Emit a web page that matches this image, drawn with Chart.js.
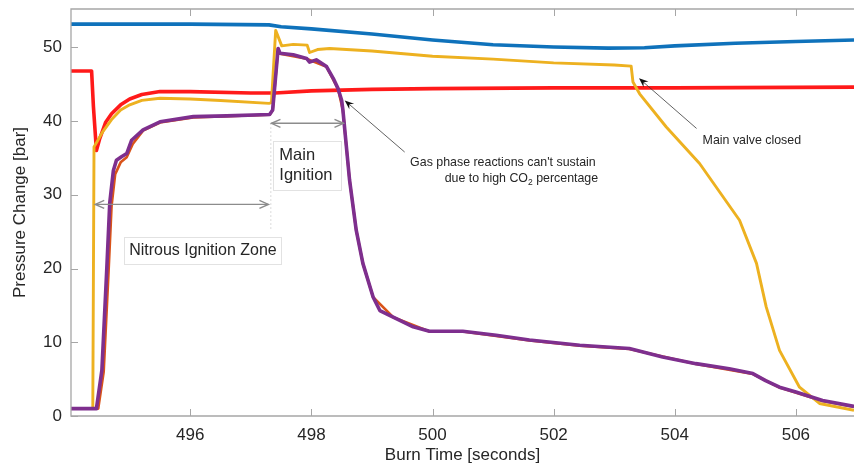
<!DOCTYPE html>
<html>
<head>
<meta charset="utf-8">
<script src="https://cdn.jsdelivr.net/npm/chart.js@4.4.1/dist/chart.umd.min.js"></script>
<style>
  html, body { margin: 0; padding: 0; background: #fff; }
  #caixa { width: 854px; height: 469px; position: relative; }
</style>
</head>
<body>
<div id="caixa"><canvas id="grafico"></canvas></div>
<script>
// eixos
const limiteX = [494.03, 506.96];
const limiteY = [0, 55.2];
const ticksX = [496, 498, 500, 502, 504, 506];
const ticksY = [0, 10, 20, 30, 40, 50];

// curvas de pressão (tempo em s, pressão em bar)
const tempoAzul = [494.03, 496, 497.3, 497.5, 498, 499, 500, 501, 502, 502.9, 503.5, 504, 505, 506, 506.96];
const pressaoAzul = [53.15, 53.15, 53.05, 52.8, 52.5, 51.8, 51.0, 50.35, 50.05, 49.9, 49.95, 50.2, 50.55, 50.8, 51.0];

const tempoVermelho = [494.03, 494.37, 494.40, 494.45, 494.5, 494.6, 494.7, 494.85, 495.0, 495.2, 495.5, 496, 497, 497.4, 498, 499, 500, 502, 504, 506.96];
const pressaoVermelho = [46.8, 46.8, 42, 36.0, 37.5, 39.8, 41.0, 42.2, 43.0, 43.6, 44.0, 44.0, 43.8, 43.8, 44.1, 44.3, 44.4, 44.5, 44.5, 44.6];

const tempoAmarelo = [494.03, 494.39, 494.41, 494.46, 494.55, 494.7, 494.85, 495.0, 495.2, 495.5, 496, 496.5, 497.3, 497.34, 497.41, 497.51, 497.7, 497.93, 497.97, 498.1, 498.3, 499, 500, 501, 502, 503, 503.28, 503.31, 503.42, 503.86, 504.41, 505.07, 505.35, 505.51, 505.73, 506.06, 506.39, 506.96];
const pressaoAmarelo = [1.0, 1.0, 36.5, 37.2, 38.5, 40.2, 41.5, 42.2, 42.8, 43.1, 43.0, 42.8, 42.4, 42.5, 52.3, 50.2, 50.4, 50.3, 49.3, 49.7, 49.85, 49.5, 48.8, 48.4, 47.9, 47.6, 47.45, 45.3, 43.7, 39.2, 34.25, 26.55, 20.7, 14.8, 8.9, 3.9, 1.7, 0.77];

const tempoLaranja = [494.03, 494.48, 494.57, 494.65, 494.70, 494.76, 494.85, 494.95, 495.05, 495.22, 495.5, 496.05, 497.31, 497.36, 497.45, 497.48, 497.92, 498.25, 498.44, 498.52, 498.63, 498.74, 498.85, 499.02, 499.35, 499.95, 500.5, 501.6, 502.43, 503.25, 504.35, 505.29, 505.73, 506.44, 506.96];
const pressaoLaranja = [1.0, 1.0, 6.0, 19.5, 28.5, 32.8, 34.4, 35.1, 36.9, 38.7, 39.8, 40.5, 40.85, 41.45, 49.8, 49.15, 48.45, 47.35, 44.35, 41.45, 32.0, 25.2, 20.7, 16.1, 13.4, 11.45, 11.45, 10.25, 9.55, 9.1, 7.05, 5.7, 3.85, 2.05, 1.25];

const tempoRoxo = [494.03, 494.45, 494.54, 494.62, 494.67, 494.73, 494.78, 494.87, 494.95, 495.03, 495.22, 495.5, 496.05, 496.6, 497.31, 497.36, 497.45, 497.48, 497.7, 497.92, 497.97, 498.08, 498.25, 498.36, 498.44, 498.5, 498.52, 498.63, 498.74, 498.85, 499.02, 499.13, 499.35, 499.68, 499.95, 500.5, 501.05, 501.6, 502.43, 503.25, 503.8, 504.35, 504.9, 505.29, 505.5, 505.73, 506.0, 506.44, 506.96];
const pressaoRoxo = [1.0, 1.0, 6.2, 19.8, 28.9, 33.3, 34.7, 35.2, 35.6, 37.4, 38.8, 39.9, 40.6, 40.7, 40.9, 41.5, 49.85, 49.2, 49.0, 48.5, 48.0, 48.3, 47.4, 45.8, 44.4, 42.8, 41.5, 32.0, 25.2, 20.7, 16.1, 14.3, 13.4, 12.1, 11.5, 11.5, 10.95, 10.3, 9.6, 9.15, 8.0, 7.1, 6.4, 5.75, 4.8, 3.9, 3.25, 2.1, 1.3];

// anotações (coordenadas nos eixos de dados)
const setasZona = [
    { de: 494.43, ate: 497.29, em: 28.7 },
    { de: 497.34, ate: 498.53, em: 39.7 }
];
const linhaPontilhada = { x: 497.33, de: 39.7, ate: 25.2 };
const caixasTexto = [
    { x0: 494.91, x1: 497.51, y0: 24.3, y1: 20.7, fonte: 16, linhas: [{ texto: 'Nitrous Ignition Zone', x: 494.99, y: 22.5 }] },
    { x0: 497.36, x1: 498.49, y0: 37.3, y1: 30.6, fonte: 16.5, linhas: [{ texto: 'Main', x: 497.47, y: 35.4 }, { texto: 'Ignition', x: 497.47, y: 32.6 }] }
];
const setasPretas = [
    { ponta: [498.55, 42.8], cauda: [499.54, 35.8] },
    { ponta: [503.41, 45.8], cauda: [504.36, 39.0] }
];
const notaGas = { x1: 499.63, y1: 34.35, x2: 500.2, y2: 32.2 };
const notaValvula = { texto: 'Main valve closed', x: 504.46, y: 37.3 };

const FONTE = '"Liberation Sans", Arial, Helvetica, sans-serif';
const CINZA_EIXO = '#a6a6a6';
const COR_TEXTO = '#262626';
const FONTE_NOTA = '12.4px ' + FONTE;

function pontos(tempos, pressoes) {
    return tempos.map((t, i) => ({ x: t, y: pressoes[i] }));
}

function serie(tempos, pressoes, cor, largura) {
    return {
        data: pontos(tempos, pressoes),
        borderColor: cor,
        backgroundColor: cor,
        borderWidth: largura,
        borderJoinStyle: 'round',
        pointRadius: 0,
        tension: 0,
        fill: false
    };
}

function pontaAberta(ctx, px, py, dir) {
    // chevron cinza das setas de intervalo
    ctx.beginPath();
    ctx.moveTo(px + dir * 9, py - 4);
    ctx.lineTo(px, py);
    ctx.lineTo(px + dir * 9, py + 4);
    ctx.stroke();
}

function setaPreta(ctx, x1, y1, x2, y2) {
    const ang = Math.atan2(y1 - y2, x1 - x2);
    ctx.strokeStyle = '#3a3a3a';
    ctx.lineWidth = 0.8;
    ctx.beginPath();
    ctx.moveTo(x2, y2);
    ctx.lineTo(x1 - Math.cos(ang) * 5, y1 - Math.sin(ang) * 5);
    ctx.stroke();
    ctx.fillStyle = '#111';
    ctx.beginPath();
    ctx.moveTo(x1, y1);
    ctx.lineTo(x1 - Math.cos(ang - 0.38) * 10, y1 - Math.sin(ang - 0.38) * 10);
    ctx.lineTo(x1 - Math.cos(ang) * 6, y1 - Math.sin(ang) * 6);
    ctx.lineTo(x1 - Math.cos(ang + 0.38) * 10, y1 - Math.sin(ang + 0.38) * 10);
    ctx.closePath();
    ctx.fill();
}

const eixosEAnotacoes = {
    id: 'eixosEAnotacoes',
    afterDatasetsDraw(chart) {
        const { ctx, chartArea: a, scales } = chart;
        const sx = scales.x, sy = scales.y;
        ctx.save();

        // linhas dos eixos
        ctx.strokeStyle = CINZA_EIXO;
        ctx.lineWidth = 1.3;
        ctx.beginPath();
        ctx.moveTo(a.right, a.top); ctx.lineTo(a.left, a.top);
        ctx.lineTo(a.left, a.bottom); ctx.lineTo(a.right, a.bottom);
        ctx.stroke();

        // marcas para dentro
        ctx.lineWidth = 1;
        ctx.beginPath();
        ticksX.forEach(v => {
            const px = Math.round(sx.getPixelForValue(v)) + 0.5;
            ctx.moveTo(px, a.bottom); ctx.lineTo(px, a.bottom - 7);
            ctx.moveTo(px, a.top); ctx.lineTo(px, a.top + 7);
        });
        ticksY.forEach(v => {
            const py = Math.round(sy.getPixelForValue(v)) + 0.5;
            ctx.moveTo(a.left, py); ctx.lineTo(a.left + 7, py);
        });
        ctx.stroke();

        // linha pontilhada da ignição principal
        ctx.strokeStyle = '#cfcfcf';
        ctx.lineWidth = 1;
        ctx.setLineDash([1.5, 2.5]);
        ctx.beginPath();
        const xp = sx.getPixelForValue(linhaPontilhada.x);
        ctx.moveTo(xp, sy.getPixelForValue(linhaPontilhada.de));
        ctx.lineTo(xp, sy.getPixelForValue(linhaPontilhada.ate));
        ctx.stroke();
        ctx.setLineDash([]);

        // setas de intervalo
        ctx.strokeStyle = '#8c8c8c';
        ctx.lineWidth = 1.4;
        setasZona.forEach(s => {
            const x1 = sx.getPixelForValue(s.de), x2 = sx.getPixelForValue(s.ate);
            const py = sy.getPixelForValue(s.em);
            ctx.beginPath();
            ctx.moveTo(x1, py); ctx.lineTo(x2, py);
            ctx.stroke();
            pontaAberta(ctx, x1, py, 1);
            pontaAberta(ctx, x2, py, -1);
        });

        // caixas de texto
        ctx.textBaseline = 'middle';
        ctx.textAlign = 'left';
        caixasTexto.forEach(c => {
            const l = sx.getPixelForValue(c.x0), r = sx.getPixelForValue(c.x1);
            const t = sy.getPixelForValue(c.y0), b = sy.getPixelForValue(c.y1);
            ctx.fillStyle = '#fff';
            ctx.fillRect(l, t, r - l, b - t);
            ctx.strokeStyle = '#e2e2e2';
            ctx.lineWidth = 1;
            ctx.strokeRect(Math.round(l) + 0.5, Math.round(t) + 0.5, Math.round(r - l), Math.round(b - t));
            ctx.fillStyle = COR_TEXTO;
            ctx.font = c.fonte + 'px ' + FONTE;
            c.linhas.forEach(ln => {
                ctx.fillText(ln.texto, sx.getPixelForValue(ln.x), sy.getPixelForValue(ln.y));
            });
        });

        // setas pretas com notas
        setasPretas.forEach(s => {
            setaPreta(ctx,
                sx.getPixelForValue(s.ponta[0]), sy.getPixelForValue(s.ponta[1]),
                sx.getPixelForValue(s.cauda[0]), sy.getPixelForValue(s.cauda[1]));
        });

        ctx.fillStyle = COR_TEXTO;
        ctx.font = FONTE_NOTA;
        ctx.fillText("Gas phase reactions can't sustain", sx.getPixelForValue(notaGas.x1), sy.getPixelForValue(notaGas.y1));
        let gx = sx.getPixelForValue(notaGas.x2);
        const gy = sy.getPixelForValue(notaGas.y2);
        const parte1 = 'due to high CO';
        ctx.fillText(parte1, gx, gy);
        gx += ctx.measureText(parte1).width;
        ctx.font = '8.5px ' + FONTE;
        ctx.fillText('2', gx, gy + 4);
        gx += ctx.measureText('2').width;
        ctx.font = FONTE_NOTA;
        ctx.fillText(' percentage', gx, gy);
        ctx.fillText(notaValvula.texto, sx.getPixelForValue(notaValvula.x), sy.getPixelForValue(notaValvula.y));

        ctx.restore();
    }
};

const canvas = document.getElementById('grafico');
new Chart(canvas.getContext('2d'), {
    type: 'line',
    data: {
        datasets: [
            serie(tempoRoxo, pressaoRoxo, '#7e2f8e', 3.6),
            serie(tempoAmarelo, pressaoAmarelo, '#edb120', 2.9),
            serie(tempoVermelho, pressaoVermelho, '#ff1a1a', 3.6),
            serie(tempoLaranja, pressaoLaranja, '#d95319', 2.6),
            serie(tempoAzul, pressaoAzul, '#0f72bb', 3.6)
        ]
    },
    options: {
        responsive: true,
        maintainAspectRatio: false,
        animation: false,
        events: [],
        layout: { padding: { top: 9, right: 0, left: 0, bottom: 0 } },
        plugins: { legend: { display: false }, tooltip: { enabled: false } },
        scales: {
            x: {
                type: 'linear',
                min: limiteX[0], max: limiteX[1],
                afterBuildTicks: s => { s.ticks = ticksX.map(v => ({ value: v })); },
                afterFit: s => { s.height = 53; s.paddingLeft = 0; s.paddingRight = 0; },
                grid: { display: false, drawTicks: false },
                border: { display: false },
                ticks: { color: COR_TEXTO, font: { family: FONTE, size: 17 }, padding: 9, maxRotation: 0 },
                title: { display: true, text: 'Burn Time [seconds]', color: COR_TEXTO, font: { family: FONTE, size: 17 }, padding: { top: 0, bottom: 3 } }
            },
            y: {
                min: limiteY[0], max: limiteY[1],
                afterBuildTicks: s => { s.ticks = ticksY.map(v => ({ value: v })); },
                afterFit: s => { s.width = 71; s.paddingTop = 0; s.paddingBottom = 0; },
                grid: { display: false, drawTicks: false },
                border: { display: false },
                ticks: { color: COR_TEXTO, font: { family: FONTE, size: 17 }, padding: 9 },
                title: { display: true, text: 'Pressure Change [bar]', color: COR_TEXTO, font: { family: FONTE, size: 17 }, padding: { top: 10, bottom: 0 } }
            }
        }
    },
    plugins: [eixosEAnotacoes]
});
</script>
</body>
</html>
